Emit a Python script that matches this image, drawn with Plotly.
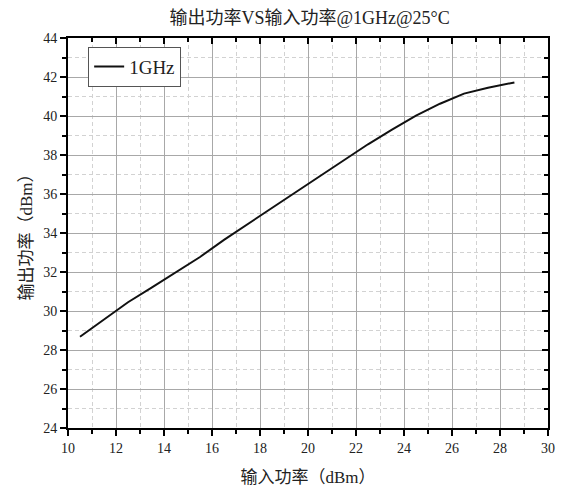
import plotly.graph_objects as go

title_text = "输出功率VS输入功率@1GHz@25°C"
x_title = "输入功率（dBm）"
y_title = "输出功率（dBm）"
series_name = "1GHz"

pin = [10.5, 11.5, 12.5, 13.5, 14.5, 15.5, 16.5, 17.5, 18.5, 19.5, 20.5,
       21.5, 22.5, 23.5, 24.5, 25.5, 26.5, 27.5, 28.6]
pout = [28.68, 29.55, 30.45, 31.21, 31.99, 32.77, 33.65, 34.47, 35.3, 36.12, 36.93,
        37.73, 38.55, 39.3, 40.02, 40.63, 41.15, 41.45, 41.72]

FONT = "Liberation Serif, Times New Roman, Noto Sans CJK SC, serif"

fig = go.Figure()
fig.add_trace(go.Scatter(x=pin, y=pout, mode="lines", name=series_name,
                         line=dict(color="#111111", width=2)))
# helper trace for the mirrored (top/right) axes
fig.add_trace(go.Scatter(x=[10, 30], y=[24, 44], xaxis="x2", yaxis="y2", mode="lines",
                         line=dict(color="rgba(0,0,0,0)"), showlegend=False, hoverinfo="skip"))

common = dict(showline=True, linecolor="black", linewidth=2, zeroline=False, automargin=False,
              tickcolor="black", tickwidth=2, tickfont=dict(family=FONT, size=14, color="#222"))

def minor(ticks, tick0):
    return dict(tick0=tick0, dtick=2, ticks=ticks, ticklen=4, tickcolor="black", tickwidth=2,
                showgrid=True, gridcolor="#d2d2d2", griddash="4px,3px", gridwidth=1)

fig.update_layout(
    width=563, height=491,
    margin=dict(l=68, r=15, t=38, b=63),
    paper_bgcolor="white", plot_bgcolor="white",
    font=dict(family=FONT, color="#222"),
    title=dict(text=title_text, x=0.55, xanchor="center", y=0.963, yanchor="middle",
               font=dict(family=FONT, size=18, color="#222")),
    xaxis=dict(range=[10, 30], dtick=2, ticks="outside", ticklen=6,
               showgrid=True, gridcolor="#a8a8a8", gridwidth=1,
               minor=minor("outside", 11),
               title=dict(text=x_title, font=dict(family=FONT, size=17, color="#222"), standoff=16),
               **common),
    yaxis=dict(range=[24, 44], dtick=2, ticks="outside", ticklen=6,
               showgrid=True, gridcolor="#a8a8a8", gridwidth=1,
               minor=minor("outside", 25),
               title=dict(text=y_title, font=dict(family=FONT, size=17, color="#222"), standoff=6),
               **common),
    xaxis2=dict(range=[10, 30], dtick=2, ticks="inside", ticklen=6, side="top", overlaying="x",
                showticklabels=False, showgrid=False,
                minor=dict(tick0=11, dtick=2, ticks="inside", ticklen=4, tickcolor="black", tickwidth=2),
                **common),
    yaxis2=dict(range=[24, 44], dtick=2, ticks="inside", ticklen=6, side="right", overlaying="y",
                showticklabels=False, showgrid=False,
                minor=dict(tick0=25, dtick=2, ticks="inside", ticklen=4, tickcolor="black", tickwidth=2),
                **common),
    legend=dict(x=0.042, y=0.978, xanchor="left", yanchor="top",
                bgcolor="white", bordercolor="#555", borderwidth=1,
                font=dict(family=FONT, size=19, color="#222")),
    showlegend=True,
)

fig.write_html("out.html")
